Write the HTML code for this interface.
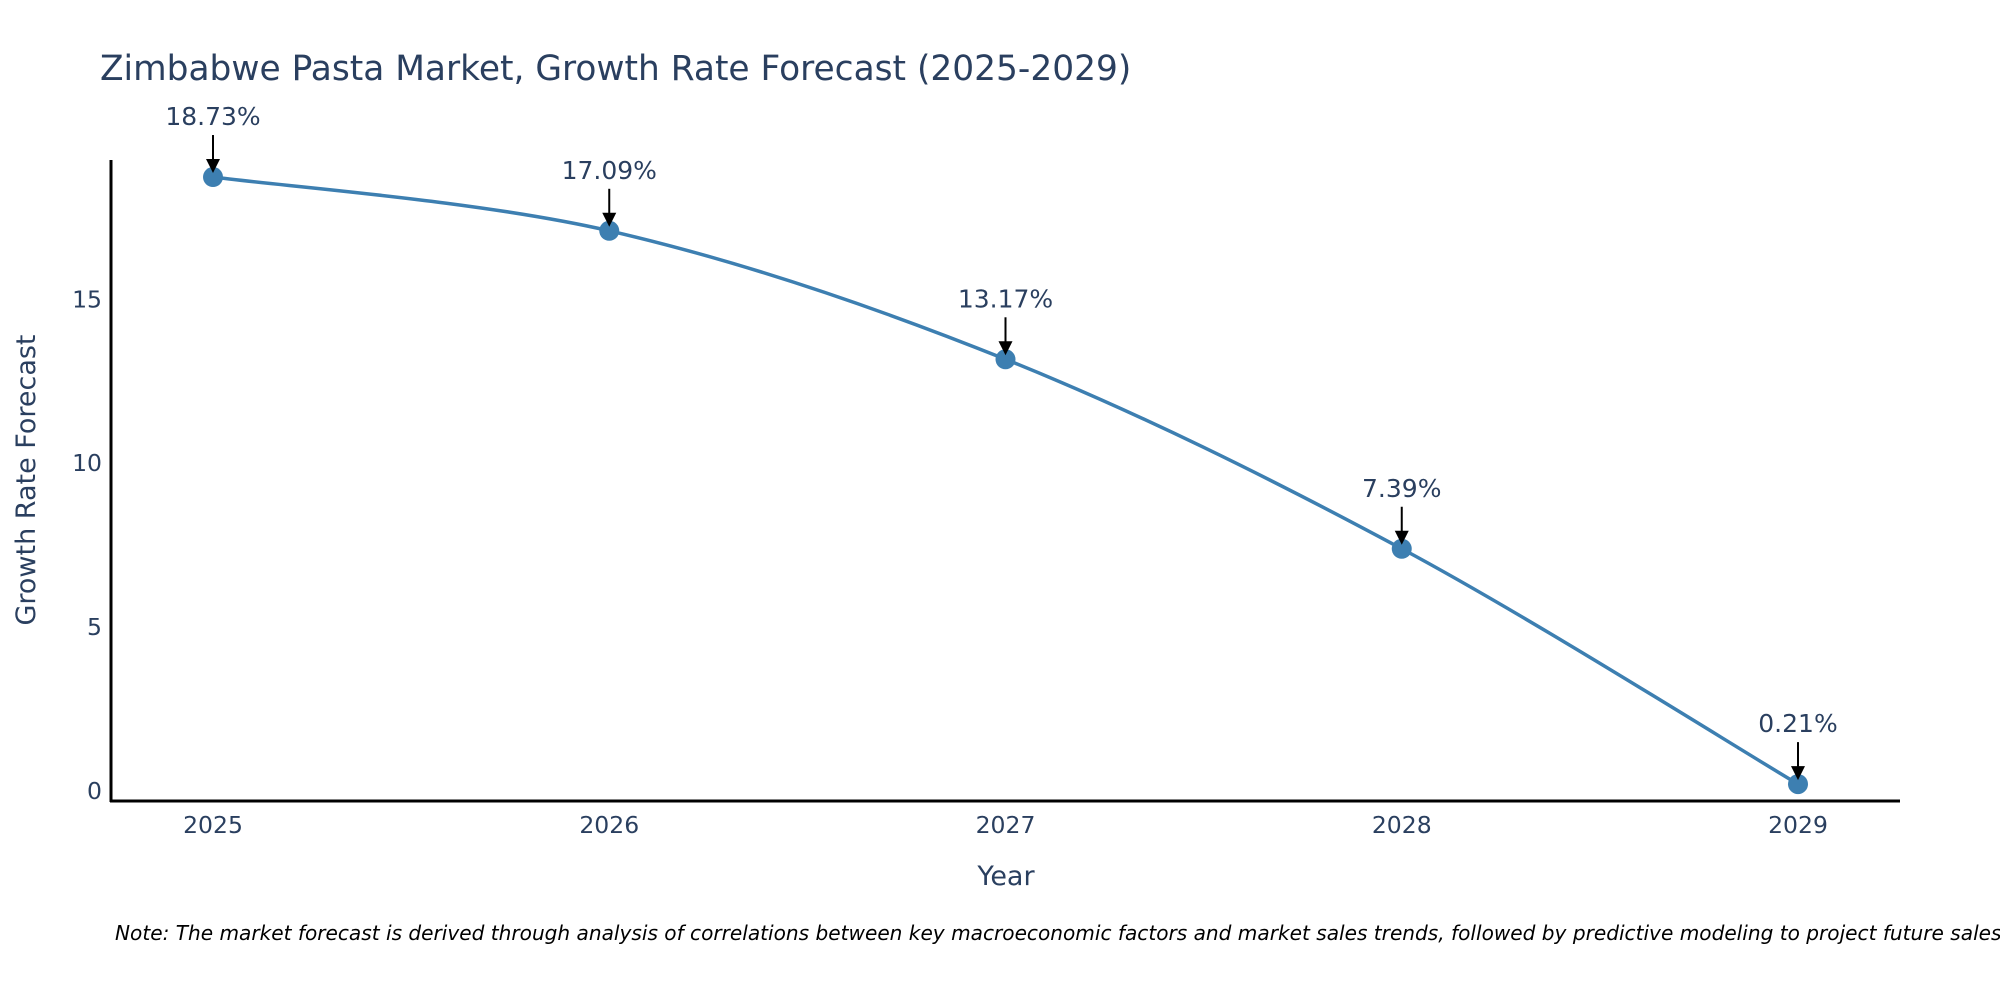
<!DOCTYPE html>
<html><head><meta charset="utf-8"><style>
html,body{margin:0;padding:0;background:#fff;}
svg{display:block;font-family:"Liberation Sans","DejaVu Sans",sans-serif;}
</style></head><body>
<svg id="chart" width="2000" height="1000" viewBox="0 0 2000 1000" xmlns="http://www.w3.org/2000/svg">
<rect width="2000" height="1000" fill="#fff"/>
<text x="100" y="80" font-size="34.4" fill="#2a3f5f" font-family="DejaVu Sans, sans-serif">Zimbabwe Pasta Market, Growth Rate Forecast (2025-2029)</text>
<g id="ticks"></g>
<g id="series"></g>
<line x1="111" y1="160" x2="111" y2="802" stroke="#000" stroke-width="3"/>
<line x1="110" y1="801" x2="1900" y2="801" stroke="#000" stroke-width="3"/>
<text transform="translate(35,480) rotate(-90)" text-anchor="middle" font-size="27" fill="#2a3f5f" font-family="DejaVu Sans, sans-serif">Growth Rate Forecast</text>
<text x="1006" y="885" text-anchor="middle" font-size="27" fill="#2a3f5f" font-family="DejaVu Sans, sans-serif">Year</text>
<text x="115" y="940" font-size="20.1" font-style="italic" fill="#000" font-family="DejaVu Sans, sans-serif">Note: The market forecast is derived through analysis of correlations between key macroeconomic factors and market sales trends, followed by predictive modeling to project future sales</text>
</svg>
<script>
const years = [2025, 2026, 2027, 2028, 2029];
const growth = [18.73, 17.09, 13.17, 7.39, 0.21];
const yTicks = [0, 5, 10, 15];

const NS = 'http://www.w3.org/2000/svg';
const xS = i => 213 + i * (1798 - 213) / (years.length - 1);
const yS = v => 791 - v * 32.78;
function mk(tag, attrs, parent) {
  const e = document.createElementNS(NS, tag);
  for (const k in attrs) e.setAttribute(k, attrs[k]);
  parent.appendChild(e);
  return e;
}
const tg = document.getElementById('ticks');
yTicks.forEach(t => {
  const e = mk('text', {x: 102, y: yS(t) + 8, 'text-anchor': 'end', 'font-size': 23.5, fill: '#2a3f5f', 'font-family': 'DejaVu Sans, sans-serif'}, tg);
  
  
  e.textContent = t;
});
years.forEach((yr, i) => {
  const e = mk('text', {x: xS(i), y: 833, 'text-anchor': 'middle', 'font-size': 23.5, fill: '#2a3f5f', 'font-family': 'DejaVu Sans, sans-serif'}, tg);
  
  
  e.textContent = yr;
});
const sg = document.getElementById('series');
const pts = growth.map((v, i) => [xS(i), yS(v)]);
let d = 'M' + pts[0][0] + ',' + pts[0][1];
for (let i = 0; i < pts.length - 1; i++) {
  const p0 = pts[Math.max(0, i - 1)], p1 = pts[i], p2 = pts[i + 1], p3 = pts[Math.min(pts.length - 1, i + 2)];
  const c1 = [p1[0] + (p2[0] - p0[0]) / 6, p1[1] + (p2[1] - p0[1]) / 6];
  const c2 = [p2[0] - (p3[0] - p1[0]) / 6, p2[1] - (p3[1] - p1[1]) / 6];
  d += ' C' + c1 + ' ' + c2 + ' ' + p2;
}
const line = mk('path', {d: d, fill: 'none', stroke: '#3d7fb1', 'stroke-width': 3.5}, sg);


growth.forEach((v, i) => {
  const x = xS(i), y = yS(v);
  const c = mk('circle', {cx: x, cy: y, r: 10, fill: '#3d7fb1'}, sg);
  
  
  const a = mk('line', {x1: x, y1: y - 42, x2: x, y2: y - 14, stroke: '#000', 'stroke-width': 2}, sg);
  
  
  const h = mk('polygon', {points: (x - 7) + ',' + (y - 18) + ' ' + (x + 7) + ',' + (y - 18) + ' ' + x + ',' + (y - 4), fill: '#000'}, sg);
  
  
  const t = mk('text', {x: x, y: y - 52, 'text-anchor': 'middle', 'font-size': 25, fill: '#2a3f5f', 'font-family': 'DejaVu Sans, sans-serif'}, sg);
  
  
  t.textContent = v.toFixed(2) + '%';
});
</script>
</body></html>
